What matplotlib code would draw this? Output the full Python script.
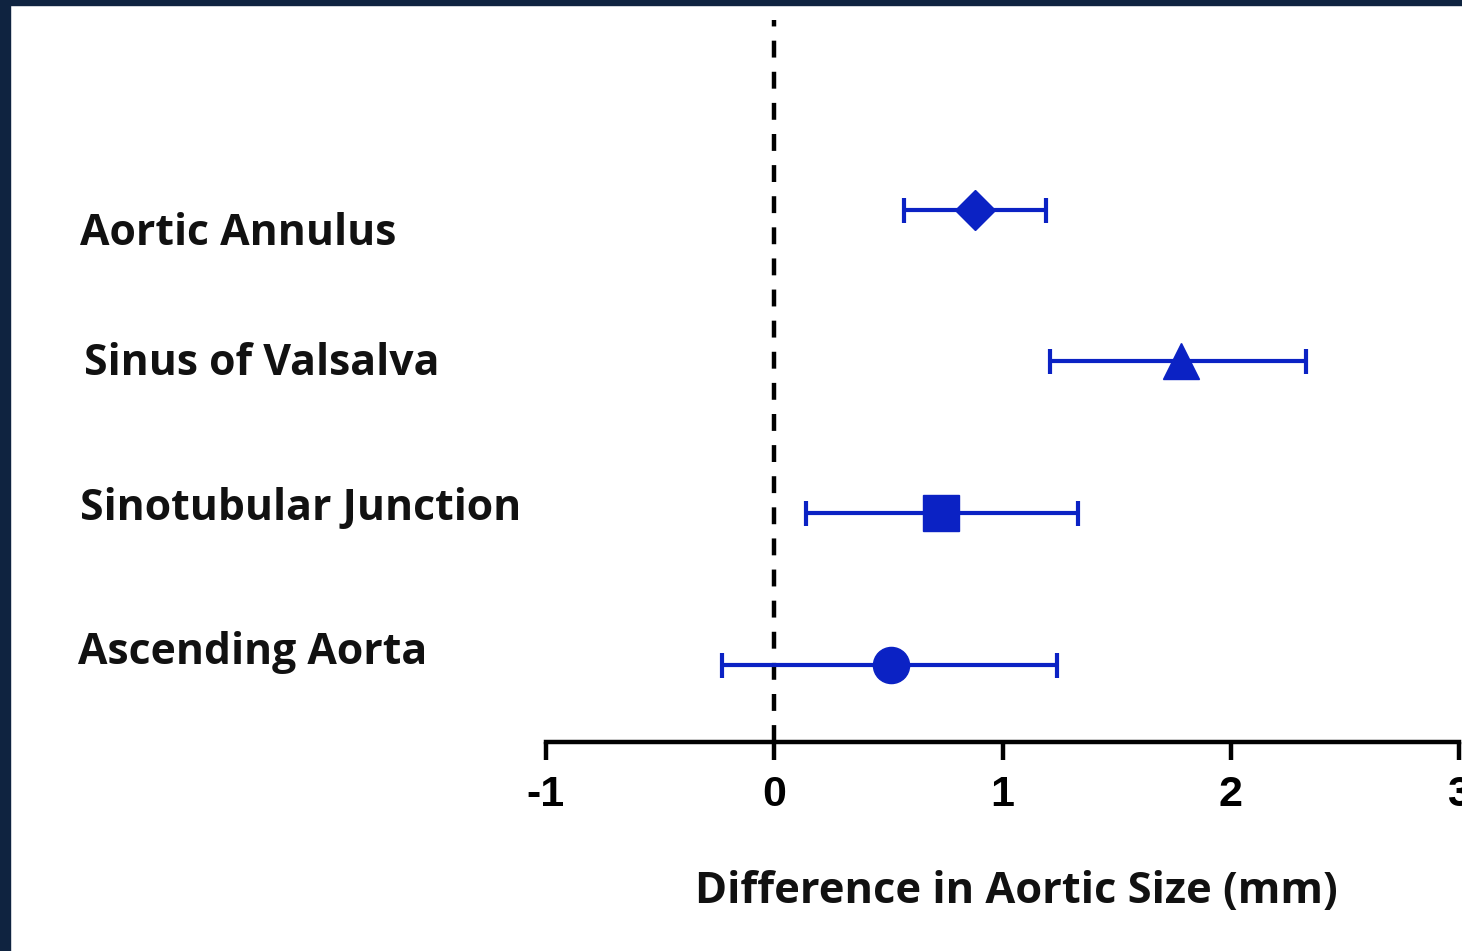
import matplotlib
matplotlib.use("Agg")
from matplotlib import pyplot as plt
import matplotlib.font_manager as fm
from matplotlib.transforms import blended_transform_factory

# values (mm)
sites = ["Aortic Annulus", "Sinus of Valsalva", "Sinotubular Junction", "Ascending Aorta"]
mean_diff = [0.88, 1.78, 0.73, 0.51]
ci_low = [0.57, 1.21, 0.14, -0.23]
ci_high = [1.19, 2.33, 1.33, 1.24]
markers = ["D", "^", "s", "o"]
xticks = [-1, 0, 1, 2, 3]

blue = "#0b22c4"
navy = "#0f2340"

names = [f.name for f in fm.fontManager.ttflist]
tick_font = "Liberation Sans Narrow" if "Liberation Sans Narrow" in names else "Liberation Sans"
label_font = "Open Sans"

W, H = 1462, 951
fig = plt.figure(figsize=(W / 100, H / 100), dpi=100)
fig.patch.set_facecolor("white")

# dark frame strips (top and left)
fig.patches.append(plt.Rectangle((0, 1 - 5 / H), 1, 5 / H, transform=fig.transFigure,
                                 color=navy, zorder=0))
fig.patches.append(plt.Rectangle((0, 0), 10 / W, 1, transform=fig.transFigure,
                                 color=navy, zorder=0))

left = 546 / W
right = 1459 / W
bottom = (H - 742) / H
top = (H - 20) / H
ax = fig.add_axes([left, bottom, right - left, top - bottom])
ax.set_facecolor("none")

ypos = [3, 2, 1, 0]
ax.set_xlim(-1, 3)
ax.set_ylim(-0.507, 4.25)

# dashed zero line
ax.vlines(0, -0.507, 4.25, colors="black", linestyles=(0, (3.8, 3.2)), linewidth=3.2, zorder=1)

for i in range(len(sites)):
    ax.errorbar(mean_diff[i], ypos[i],
                xerr=[[mean_diff[i] - ci_low[i]], [ci_high[i] - mean_diff[i]]],
                fmt=markers[i], color=blue, ecolor=blue, elinewidth=3,
                capsize=9, capthick=3, markersize=26 if markers[i] != "D" else 20,
                zorder=3)

# label placement in figure pixels / data offsets
label_x = [80, 84, 80, 78]
nudge = [-0.155, -0.01, 0.03, 0.08]
trans = blended_transform_factory(fig.transFigure, ax.transData)
for i in range(len(sites)):
    ax.text(label_x[i] / W, ypos[i] + nudge[i], sites[i], transform=trans,
            ha="left", va="center", fontsize=30.8, fontweight="bold", family=label_font,
            color="#111111", clip_on=False)

for s in ["top", "right", "left"]:
    ax.spines[s].set_visible(False)
ax.spines["bottom"].set_linewidth(3.2)
ax.set_yticks([])
ax.set_xticks(xticks)
ax.set_xticklabels([str(t) for t in xticks], family=tick_font, fontweight="bold", fontsize=31)
ax.tick_params(axis="x", length=13, width=3.2, pad=11, direction="out")

ax.set_xlabel("Difference in Aortic Size (mm)", family=label_font, fontweight="bold",
              fontsize=31.2, color="#111111")
ax.xaxis.set_label_coords((1016 - 546) / (1459 - 546), -(892 - 742) / (742 - 20))
ax.xaxis.label.set_va("center")

fig.savefig("out.png", dpi=100)
